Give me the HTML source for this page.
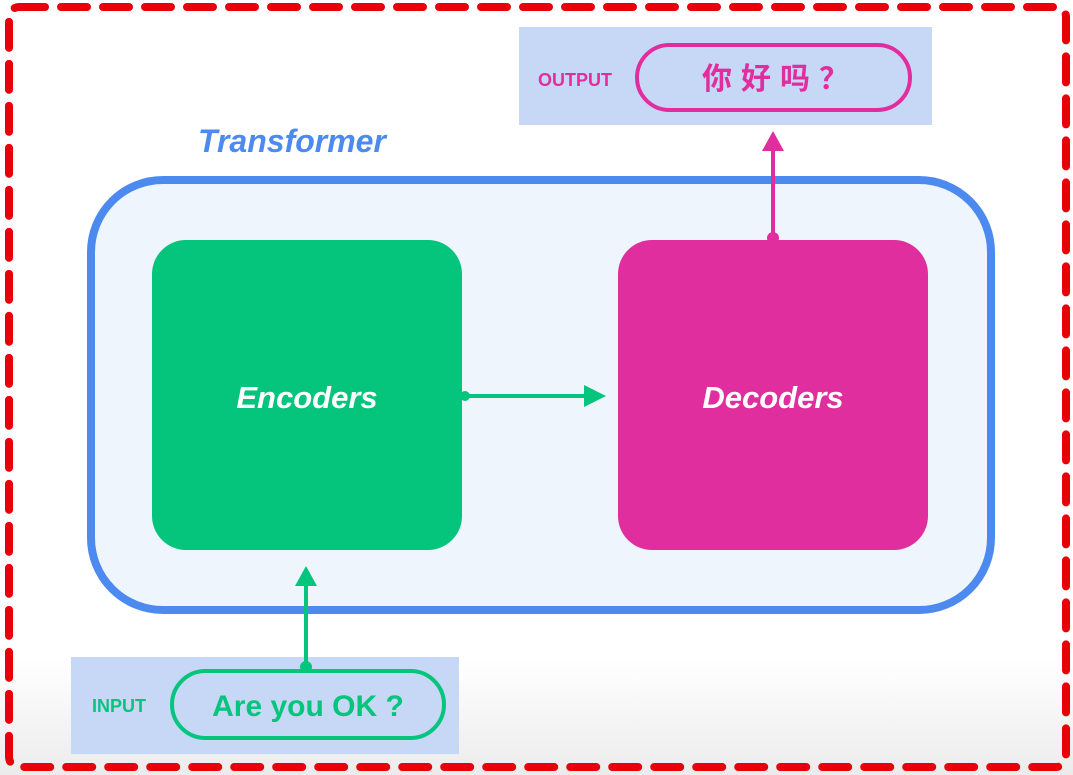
<!DOCTYPE html>
<html><head><meta charset="utf-8"><style>
html,body{margin:0;padding:0;background:#fff;}
svg{display:block;}
text{font-family:"Liberation Sans","Noto Sans CJK SC",sans-serif;font-weight:bold;}
</style></head><body>
<svg width="1073" height="775" viewBox="0 0 1073 775" xmlns="http://www.w3.org/2000/svg">
<defs><linearGradient id="bg" x1="0" y1="0" x2="0" y2="1"><stop offset="0.85" stop-color="#fff"/><stop offset="1" stop-color="#ececec"/></linearGradient></defs>
<rect width="1073" height="775" fill="url(#bg)"/>
<rect x="9" y="7" width="1057" height="760" rx="10" fill="none" stroke="#e8000a" stroke-width="8" stroke-dasharray="26 16" stroke-linecap="round"/>
<text x="198" y="152" font-size="32" font-style="italic" fill="#4d8af0">Transformer</text>
<rect x="91" y="180" width="900" height="430" rx="72" fill="#eef5fd" stroke="#4d8af0" stroke-width="8"/>
<rect x="152" y="240" width="310" height="310" rx="34" fill="#05c47c"/>
<rect x="618" y="240" width="310" height="310" rx="34" fill="#e02e9e"/>
<text x="307" y="408" font-size="31" font-style="italic" fill="#fff" text-anchor="middle">Encoders</text>
<text x="773" y="408" font-size="31" font-style="italic" fill="#fff" text-anchor="middle">Decoders</text>
<line x1="465" y1="396" x2="588" y2="396" stroke="#05c47c" stroke-width="4"/>
<circle cx="465" cy="396" r="5" fill="#05c47c"/>
<polygon points="606,396 584,385 584,407" fill="#05c47c"/>
<rect x="71" y="657" width="388" height="97" fill="#c6d8f6"/>
<line x1="306" y1="667" x2="306" y2="584" stroke="#05c47c" stroke-width="4"/>
<circle cx="306" cy="667" r="6" fill="#05c47c"/>
<polygon points="306,566 295,586 317,586" fill="#05c47c"/>
<rect x="172" y="671" width="272" height="67" rx="33.5" fill="none" stroke="#05c47c" stroke-width="4"/>
<text x="119" y="712" font-size="18" fill="#05c47c" text-anchor="middle">INPUT</text>
<text x="308" y="716" font-size="30" fill="#05c47c" text-anchor="middle">Are you OK ?</text>
<rect x="519" y="27" width="413" height="98" fill="#c6d8f6"/>
<line x1="773" y1="238" x2="773" y2="150" stroke="#e02e9e" stroke-width="4"/>
<circle cx="773" cy="238" r="6" fill="#e02e9e"/>
<polygon points="773,131 762,151 784,151" fill="#e02e9e"/>
<rect x="637" y="45" width="273" height="65" rx="32.5" fill="none" stroke="#e02e9e" stroke-width="4"/>
<text x="575" y="86" font-size="18" fill="#e02e9e" text-anchor="middle">OUTPUT</text>
<text x="780" y="89" font-size="30" fill="#e02e9e" text-anchor="middle" letter-spacing="9">你好吗？</text>
</svg>
</body></html>
